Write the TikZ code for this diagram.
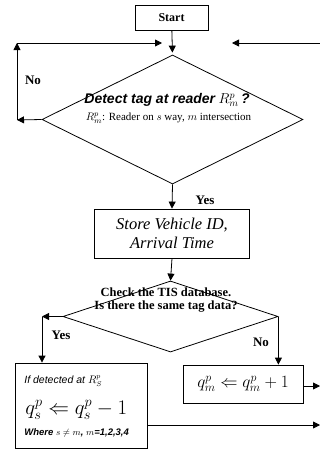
\documentclass[tikz,border=0pt]{standalone}
\usepackage{fontspec}
\setmainfont{Liberation Serif}
\newfontfamily\arialfont{Liberation Sans}
\usetikzlibrary{positioning,arrows.meta,shapes.geometric,calc}

\begin{document}
\begin{tikzpicture}[x=1pt, y=-1pt, line width=0.8pt,
  box/.style={draw, rectangle, inner sep=2pt, align=center},
  dec/.style={draw, diamond, inner sep=0pt, aspect=2},
  lbl/.style={font=\fontsize{13}{15}\selectfont\bfseries},
  a/.style={-{Triangle[length=7pt,width=7pt]}}]
\useasboundingbox (0,0) rectangle (320,450);
% main column
\node[box, minimum width=73pt, minimum height=25pt, font=\fontsize{12}{14}\selectfont\bfseries] (start) at (171.5,17.5) {Start};
\node[dec, minimum width=261pt, minimum height=129pt] (detect) at (172.5,119.5) {};
\node[font=\fontsize{14}{16}\selectfont] (detecttxt) at (167,100) {{\arialfont\bfseries\itshape Detect tag at reader} $R_m^p$\,{\arialfont\bfseries\itshape ?}};
\node[font=\fontsize{11}{13}\selectfont] (readertxt) at (168.5,118) {$R_m^p$: Reader on $s$ way, $m$ intersection};
\node[box, minimum width=155pt, minimum height=49pt, font=\fontsize{16.5}{19}\selectfont\itshape] (store) at (172,233.5) {Store Vehicle ID,\\ Arrival Time};
\node[dec, minimum width=215pt, minimum height=71pt] (check) at (170.5,316.5) {};
\node[font=\fontsize{12.5}{13}\selectfont\bfseries, align=center] (checktxt) at (166,300) {Check the TIS database.\\ Is there the same tag data?};
% queue updates
\node[box, minimum width=120pt, minimum height=38pt, font=\fontsize{17}{19}\selectfont] (plus) at (243,384) {$q_m^p \Leftarrow q_m^p + 1$};
\node[box, minimum width=132pt, minimum height=85pt] (minus) at (81,405.5) {};
\node[anchor=west, inner sep=0pt, font=\arialfont\itshape\fontsize{10.5}{12}\selectfont] (iftxt) at (24,381) {If detected at $R_S^p$};
\node[anchor=west, inner sep=0pt, font=\fontsize{21}{23}\selectfont] (qtxt) at (25,410) {$q_s^p \Leftarrow q_s^p - 1$};
\node[anchor=west, inner sep=0pt, font=\arialfont\bfseries\itshape\fontsize{9.5}{11}\selectfont] (wheretxt) at (24,433) {Where $s\neq m$, $m$=1,2,3,4};
% labels
\node[lbl] (yes1) at (205,200) {Yes};
\node[lbl] (no1) at (33,80) {No};
\node[lbl] (yes2) at (61,335) {Yes};
\node[lbl] (no2) at (261,342) {No};
% corners of the connectors
\coordinate (nocorner) at (17,120);
\coordinate (notop) at (17,43);
\coordinate (noend) at (162,43);
\coordinate (backin) at (320,43);
\coordinate (backend) at (232,43);
\coordinate (yescorner) at (42,316.5);
\coordinate (plusout) at (320,386);
\coordinate (minusout) at (320,425);
% connectors
\draw[a, shorten >=2pt] (start) -- (detect.north);
\draw[a] (detect.west) -- (nocorner);
\draw[a] (nocorner) -- (notop);
\draw[a] (notop) -- (noend);
\draw[a] (backin) -- (backend);
\draw[a] (detect.south) -- (store.north);
\draw[a] (store.south) -- (check.north);
\draw[a] (check.west) -- (yescorner);
\draw[a] (yescorner) -- (yescorner |- minus.north);
\draw[a] (check.east) -- (check.east |- plus.north);
\draw[a] (plus.east |- plusout) -- (plusout);
\draw[a] (minus.east |- minusout) -- (minusout);
\end{tikzpicture}
\end{document}
